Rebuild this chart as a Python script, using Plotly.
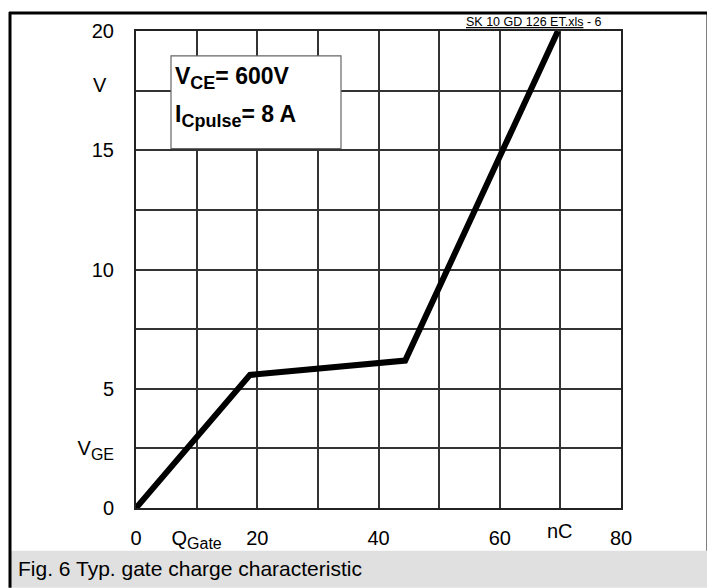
import plotly.graph_objects as go

# Data
q_gate = [0, 18.8, 44.4, 69.6]       # nC
v_ge = [0, 5.58, 6.18, 20.0]         # V

SUB = "<sub><span style='font-size:16px'>{}</span></sub>"
x_tickvals = [0, 10, 20, 40, 60, 80]
x_ticktext = ["0", "Q" + SUB.format("Gate"), "20", "40", "60", "80"]
y_tickvals = [0, 2.5, 5, 10, 15, 20]
y_ticktext = ["0", "V" + SUB.format("GE"), "5", "10", "15", "20"]
x_unit = "nC"
y_unit = "V"

# page has an 8px body margin: work in screen pixels, convert to figure pixels
OFF = 8
W, H = 715 - OFF, 588 - OFF
L, R, T, B = 136, 621, 29, 508   # plot area in screen pixels


def px(x):
    return (x - L) / (R - L)


def py(y):
    return (B - y) / (B - T)


FONT = "Liberation Sans, Arial, sans-serif"
TICKFONT = dict(family=FONT, size=20, color="black")
GRID = dict(showgrid=True, gridcolor="#333333", gridwidth=1.5, ticks="")

fig = go.Figure()
fig.add_trace(go.Scatter(x=q_gate, y=v_ge, mode="lines",
                         line=dict(color="black", width=6),
                         showlegend=False, hoverinfo="skip"))

fig.update_layout(
    width=W, height=H,
    margin=dict(l=L - OFF, r=715 - R, t=T - OFF, b=588 - B),
    paper_bgcolor="white", plot_bgcolor="white",
    font=dict(family=FONT, size=20, color="black"),
    xaxis=dict(range=[0, 80], tickvals=x_tickvals, ticktext=x_ticktext, tickfont=TICKFONT,
               showgrid=True, gridcolor="#333333", gridwidth=1.5,
               minor=dict(dtick=10, tick0=0, **GRID),
               zeroline=False, showline=True, linecolor="#222222", linewidth=2,
               mirror=True, ticks="", ticklabelstandoff=11),
    yaxis=dict(range=[0, 20], tickvals=y_tickvals, ticktext=y_ticktext, tickfont=TICKFONT,
               showgrid=True, gridcolor="#333333", gridwidth=1.5,
               minor=dict(dtick=2.5, tick0=0, **GRID),
               zeroline=False, showline=True, linecolor="#222222", linewidth=2,
               mirror=True, ticks="", ticklabelstandoff=16),
)

shapes = [
    # caption band
    dict(type="rect", xref="paper", yref="paper", x0=px(10), x1=px(707),
         y0=py(588), y1=py(551), fillcolor="#e0e0e0", line=dict(width=0), layer="below"),
    # outer frame lines
    dict(type="line", xref="paper", yref="paper", x0=px(9), x1=px(709),
         y0=py(11), y1=py(11), line=dict(color="black", width=3)),
    dict(type="line", xref="paper", yref="paper", x0=px(10), x1=px(10),
         y0=py(10), y1=py(588), line=dict(color="black", width=3)),
    dict(type="line", xref="paper", yref="paper", x0=px(708), x1=px(708),
         y0=py(10), y1=py(551), line=dict(color="black", width=3)),
    # condition box
    dict(type="rect", xref="paper", yref="paper", x0=px(171), x1=px(341),
         y0=py(147), y1=py(54), fillcolor="white", line=dict(color="#666666", width=1.2)),
]
fig.update_layout(shapes=shapes)

annotations = [
    dict(text=x_unit, x=70, y=py(531), xref="x", yref="paper",
         xanchor="center", yanchor="middle", showarrow=False, font=TICKFONT),
    dict(text=y_unit, x=px(100), y=17.5, xref="paper", yref="y", yshift=6,
         xanchor="center", yanchor="middle", showarrow=False, font=TICKFONT),
    dict(text="<b>V<sub><span style='font-size:18px'>CE</span></sub>= 600V</b>",
         x=px(173), y=py(76), xref="paper", yref="paper",
         xanchor="left", yanchor="middle", showarrow=False, font=dict(size=23)),
    dict(text="<b>I<sub><span style='font-size:18px'>Cpulse</span></sub>= 8 A</b>",
         x=px(173), y=py(114), xref="paper", yref="paper",
         xanchor="left", yanchor="middle", showarrow=False, font=dict(size=23)),
    dict(text="<u>SK 10 GD 126 ET.xls</u> - 6", x=px(464), y=py(20), xref="paper", yref="paper",
         xanchor="left", yanchor="middle", showarrow=False, font=dict(size=12.5)),
    dict(text="Fig. 6 Typ. gate charge characteristic", x=px(16), y=py(569),
         xref="paper", yref="paper", xanchor="left", yanchor="middle",
         showarrow=False, font=dict(size=21)),
]
fig.update_layout(annotations=annotations)

fig.write_html("out.html")
